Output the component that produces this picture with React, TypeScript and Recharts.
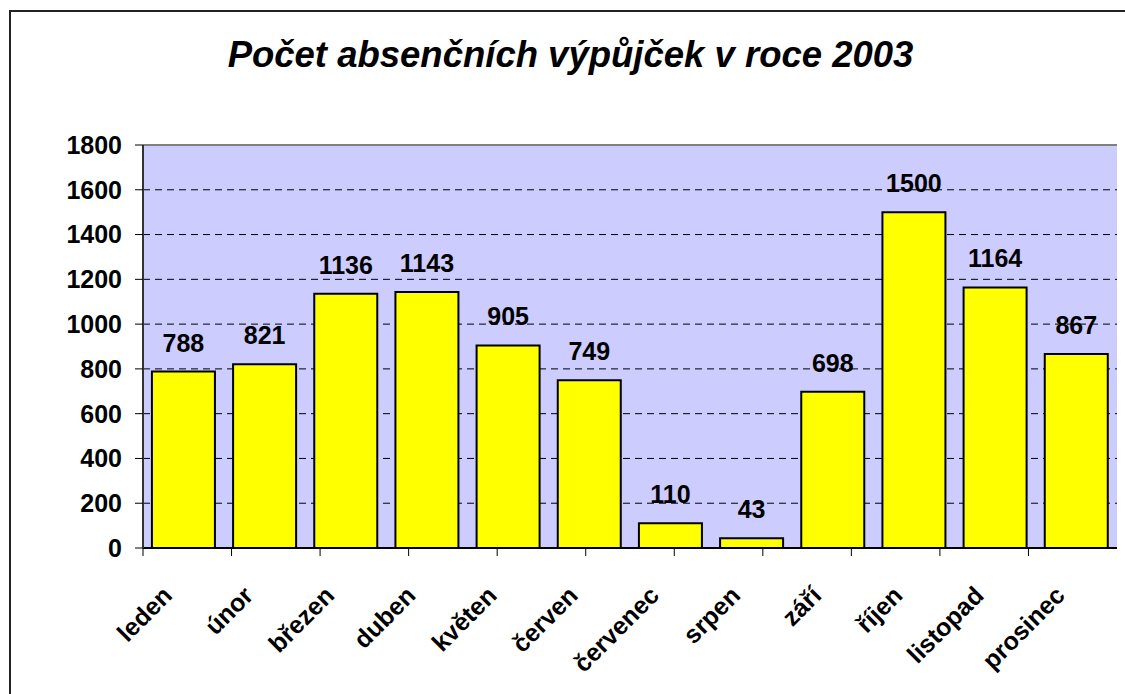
import React from 'react';
import { BarChart, Bar, XAxis, YAxis, CartesianGrid, LabelList, ReferenceLine } from 'recharts';

const months = ['leden', 'únor', 'březen', 'duben', 'květen', 'červen', 'červenec', 'srpen', 'září', 'říjen', 'listopad', 'prosinec'];
const loans = [788, 821, 1136, 1143, 905, 749, 110, 43, 698, 1500, 1164, 867];
const yTicks = [0, 200, 400, 600, 800, 1000, 1200, 1400, 1600, 1800];
const edgeTicks = [0, 1, 2, 3, 4, 5, 6, 7, 8, 9, 10, 11, 12];
const title = 'Počet absenčních výpůjček v roce 2003';

const data = months.map((m, i) => ({ month: m, loans: loans[i] }));

const FONT = '"Liberation Sans", Arial, sans-serif';

const NoTick = () => null;

const MonthTick = (props: any) => {
  const { x, y, payload } = props;
  return (
    <g transform={`translate(${x - 10}, ${y + 41}) rotate(-45)`}>
      <text x={0} y={0} textAnchor="end" fontFamily={FONT} fontWeight="bold" fontSize={25} fill="#000">
        {payload.value}
      </text>
    </g>
  );
};

export default function App() {
  return (
    <div style={{ position: 'absolute', left: 0, top: 0, width: 1125, height: 694, overflow: 'hidden', background: '#fff' }}>
      <div style={{ position: 'absolute', left: 9, top: 10, width: 1300, height: 900, borderLeft: '2px solid #222', borderTop: '2px solid #222' }} />
      <div style={{ position: 'absolute', left: 0, top: 37, width: 1141, textAlign: 'center', fontFamily: FONT, fontWeight: 'bold', fontStyle: 'italic', fontSize: 36.5, lineHeight: '36px', color: '#000' }}>
        {title}
      </div>
      <div style={{ position: 'absolute', left: 0, top: 0 }}>
        <BarChart width={1125} height={694} data={data} margin={{ top: 145, right: 8, left: 83, bottom: 38 }} barCategoryGap="11%">
          <CartesianGrid vertical={false} fill="#CCCCFF" stroke="#000" strokeDasharray="7 5" />
          <XAxis xAxisId="a" type="number" domain={[0, 12]} ticks={edgeTicks} allowDataOverflow height={8} tickSize={8} tick={NoTick} axisLine={{ stroke: '#000', strokeWidth: 2 }} tickLine={{ stroke: '#000' }} />
          <XAxis xAxisId="b" dataKey="month" type="category" height={100} tickSize={0} tickMargin={0} tickLine={false} axisLine={false} tick={<MonthTick />} interval={0} />
          <YAxis domain={[0, 1800]} ticks={yTicks} width={60} tickSize={8} tickMargin={13} axisLine={{ stroke: '#333', strokeWidth: 2 }} tickLine={{ stroke: '#000' }} tick={{ fontFamily: FONT, fontWeight: 'bold', fontSize: 25, fill: '#000' }} />
          <ReferenceLine y={1800} xAxisId="b" stroke="#808080" strokeWidth={2} />
          <ReferenceLine x={12} xAxisId="a" stroke="#808080" strokeWidth={2} />
          <Bar dataKey="loans" xAxisId="b" fill="#FFFF00" stroke="#000" strokeWidth={2} isAnimationActive={false}>
            <LabelList dataKey="loans" position="top" offset={20} style={{ fontFamily: FONT, fontWeight: 'bold', fontSize: 25, fill: '#000' }} />
          </Bar>
        </BarChart>
      </div>
    </div>
  );
}
